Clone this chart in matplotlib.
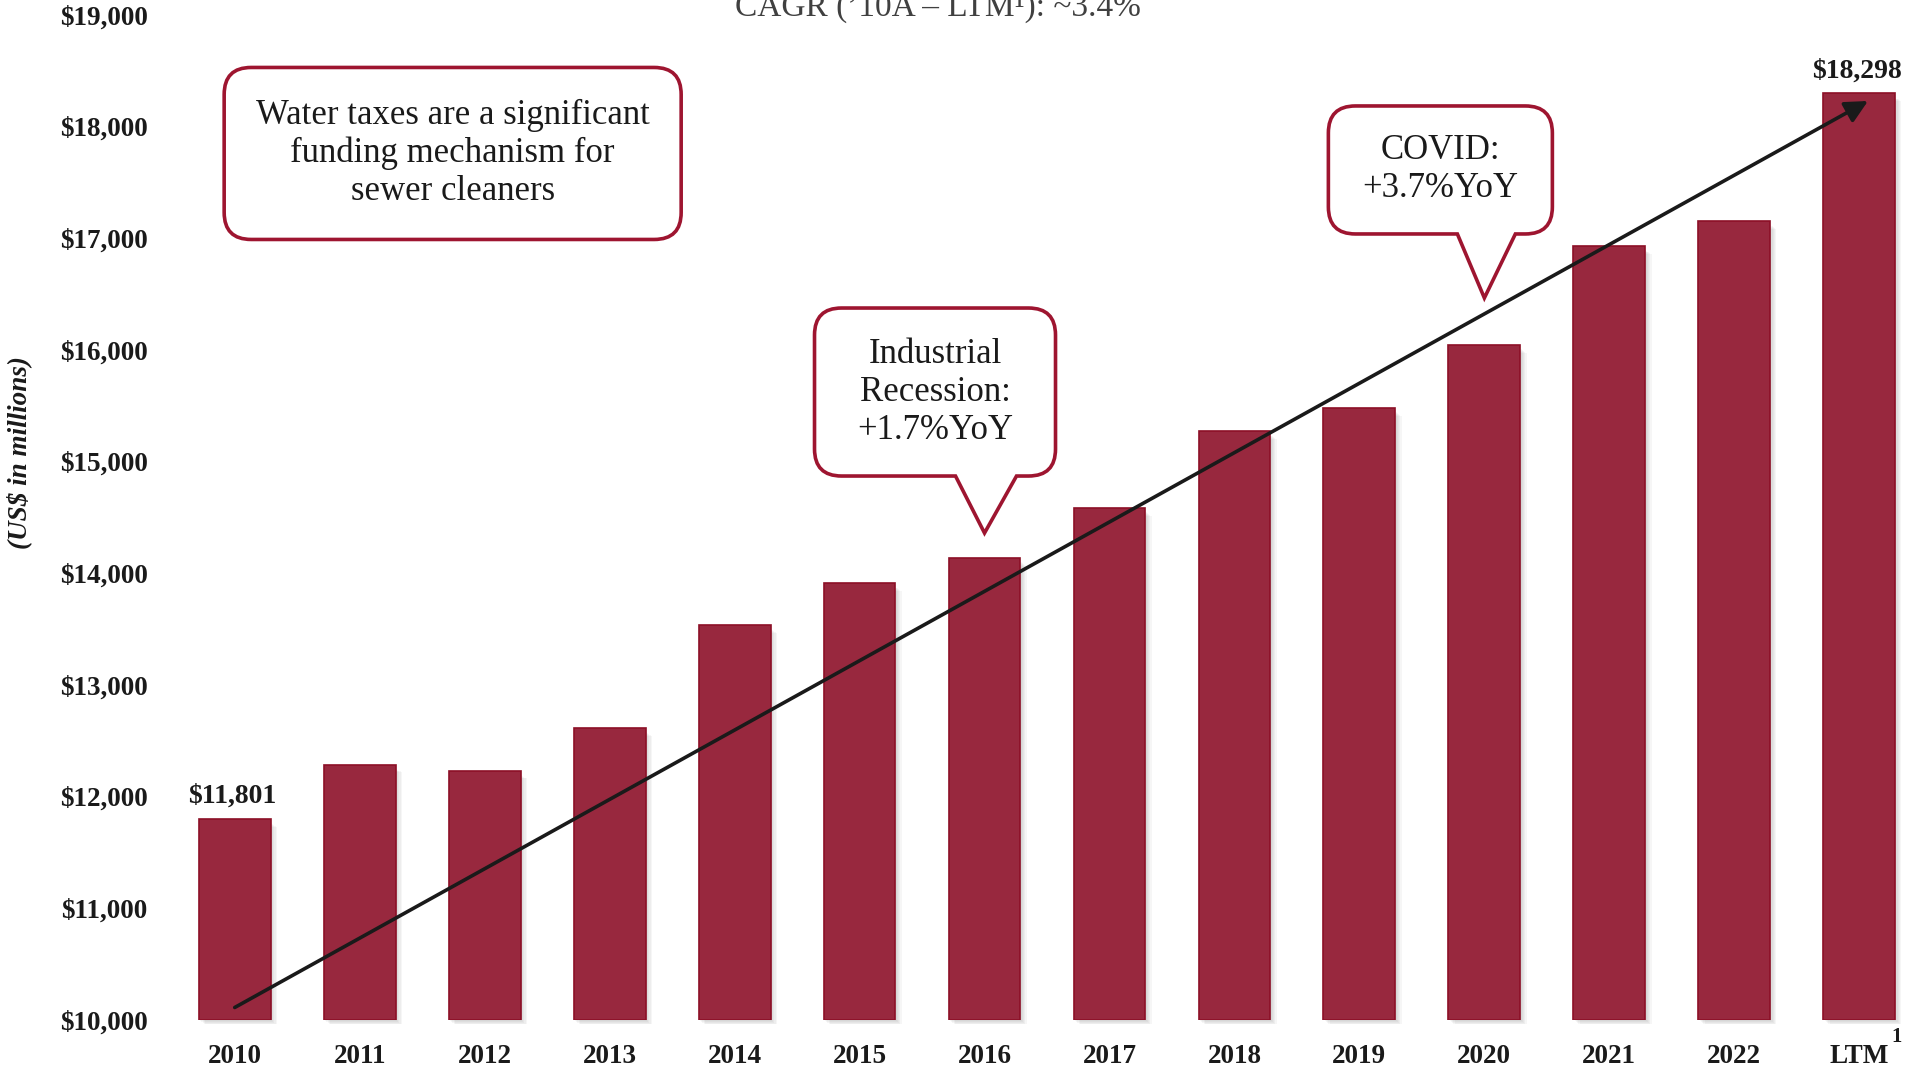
import matplotlib
matplotlib.use('Agg')
import matplotlib.pyplot as plt
import matplotlib.transforms as mtransforms
from matplotlib.path import Path
from matplotlib.patches import PathPatch
import numpy as np

plt.rcParams['font.family'] = ['Liberation Serif', 'DejaVu Serif']

# data
years = ['2010', '2011', '2012', '2013', '2014', '2015', '2016',
         '2017', '2018', '2019', '2020', '2021', '2022', 'LTM']
revenue = [11801, 12288, 12233, 12614, 13540, 13911, 14139,
           14586, 15272, 15479, 16046, 16928, 17157, 18298]
labelled = [0, 13]
yticks = [10000, 11000, 12000, 13000, 14000, 15000, 16000, 17000, 18000, 19000]

title = 'CAGR (\u201910A \u2013 LTM\u00b9): ~3.4%'
ylabel = '(US$ in millions)'

note_text = 'Water taxes are a significant\nfunding mechanism for\nsewer cleaners'
recession_text = 'Industrial\nRecession:\n+1.7%YoY'
covid_text = 'COVID:\n+3.7%YoY'

BAR = '#98283e'
EDGE = '#8c0f26'
CALLOUT = '#9e1530'
INK = '#1a1a1a'
DPI = 100


def bubble_path(l, r, b, t, rad, tail=None):
    # rounded box, optional tail pointing at (0, 0); units are pixels
    v = [(l + rad, b)]
    c = [Path.MOVETO]
    if tail is not None:
        v += [(tail[0], b), (0, 0), (tail[1], b)]
        c += [Path.LINETO] * 3
    v += [(r - rad, b), (r, b), (r, b + rad),
          (r, t - rad), (r, t), (r - rad, t),
          (l + rad, t), (l, t), (l, t - rad),
          (l, b + rad), (l, b), (l + rad, b), (l + rad, b)]
    c += [Path.LINETO, Path.CURVE3, Path.CURVE3,
          Path.LINETO, Path.CURVE3, Path.CURVE3,
          Path.LINETO, Path.CURVE3, Path.CURVE3,
          Path.LINETO, Path.CURVE3, Path.CURVE3, Path.CLOSEPOLY]
    v = np.array(v) / DPI
    return Path(v, c)


def callout(ax, fig, x, y, box, text, tail=None, size=25):
    trans = fig.dpi_scale_trans + mtransforms.ScaledTranslation(x, y, ax.transData)
    l, r, b, t = box
    patch = PathPatch(bubble_path(l, r, b, t, 27, tail), transform=trans,
                      facecolor='white', edgecolor=CALLOUT, lw=2.6,
                      zorder=5, clip_on=False)
    ax.add_patch(patch)
    cx = (l + r) / 2 / DPI
    cy = (b + t) / 2 / DPI
    ax.text(cx, cy, text, transform=trans, ha='center', va='center',
            fontsize=size, color=INK, zorder=6, linespacing=1.2)


fig = plt.figure(figsize=(19.08, 10.68), dpi=DPI)
ax = fig.add_axes([160 / 1908, 1 - 1020 / 1068, 1748 / 1908, 1005 / 1068])

x = np.arange(len(years))
vals = np.array(revenue)
width = 0.575

# soft shadow to the right / below each bar
for k in range(1, 6):
    ax.bar(x + 0.01 * k, vals - 10000 - 30, bottom=10000 - 8 * k, width=width,
           color='#808080', alpha=0.07, linewidth=0, zorder=1, clip_on=False)
ax.bar(x, vals - 10000, bottom=10000, width=width, color=BAR,
       edgecolor=EDGE, linewidth=1.2, zorder=2)

for i in labelled:
    ax.annotate(f'${revenue[i]:,}', xy=(x[i], revenue[i]), xytext=(-2, 7),
                textcoords='offset points', ha='center', va='bottom',
                fontsize=20, fontweight='bold', color=INK)

ax.set_xlim(-0.598, 13.39)
ax.set_ylim(10000, 19000)
ax.set_yticks(yticks)
ax.set_yticklabels([f'${v:,}' for v in yticks])
ax.set_xticks(x)
ax.set_xticklabels(years)
ax.tick_params(length=0, labelsize=19.5, colors=INK)
ax.tick_params(axis='x', pad=17)
ax.tick_params(axis='y', pad=9)
for lab in ax.get_xticklabels() + ax.get_yticklabels():
    lab.set_fontweight('bold')
for s in ax.spines.values():
    s.set_visible(False)

# superscript on LTM
ax.annotate('1', xy=(x[-1], 0), xycoords=('data', 'axes fraction'),
            xytext=(23, -12), textcoords='offset points',
            ha='left', va='center', fontsize=15, fontweight='bold', color=INK)

ax.set_ylabel(ylabel, fontsize=19.5, fontweight='bold', style='italic', color=INK)
ax.yaxis.set_label_coords(-(160 - 32) / 1748, 0.565)

# trend arrow
ax.annotate('', xy=(13.07, 18230), xytext=(0, 10112),
            arrowprops=dict(arrowstyle='-|>', lw=2.6, color=INK,
                            mutation_scale=34, shrinkA=0, shrinkB=0),
            zorder=4)

# callouts
callout(ax, fig, 1.74, 17760, (-228, 229, -86, 86), note_text)
callout(ax, fig, 6, 14361, (-170, 71, 57, 225), recession_text, tail=(-29, 32))
callout(ax, fig, 10, 16466, (-156, 68, 64, 192), covid_text, tail=(-27, 31))

fig.text(938 / 1908, 1 - 8 / 1068, title, ha='center', va='center',
         fontsize=24, color='#404040')

fig.savefig('out.png', dpi=DPI)
